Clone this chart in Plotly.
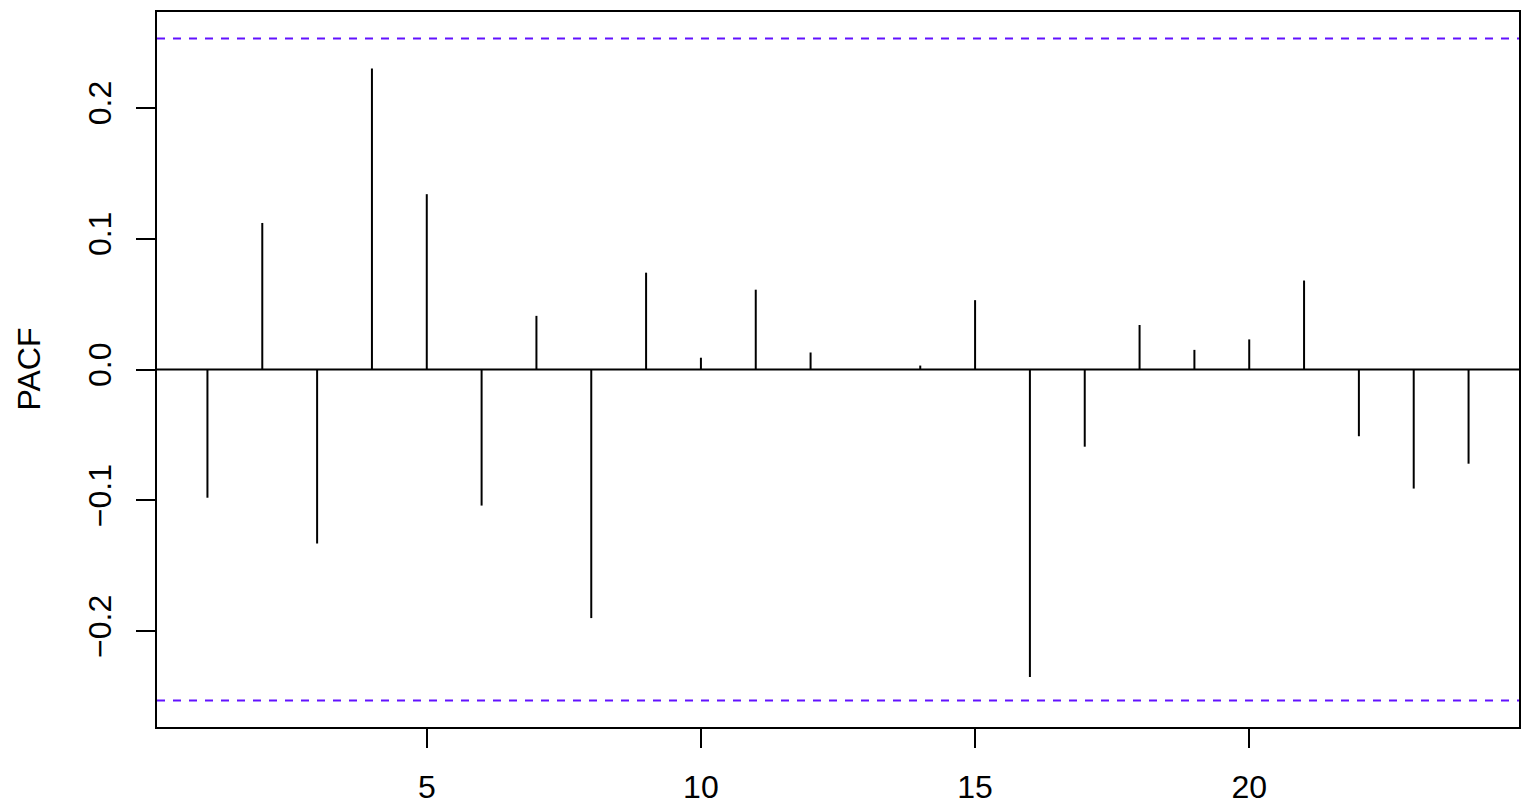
import plotly.graph_objects as go

lags = list(range(1, 25))
pacf = [-0.098, 0.112, -0.133, 0.230, 0.134, -0.104, 0.041, -0.190,
        0.074, 0.009, 0.061, 0.013, 0.000, 0.003, 0.053, -0.235,
        -0.059, 0.034, 0.015, 0.023, 0.068, -0.051, -0.091, -0.072]
ci = 0.253
x_ticks = [5, 10, 15, 20]
y_ticks = [-0.2, -0.1, 0.0, 0.1, 0.2]
y_labels = ["\u22120.2", "\u22120.1", "0.0", "0.1", "0.2"]

xs, ys = [], []
for l, v in zip(lags, pacf):
    xs += [l, l, None]
    ys += [0, v, None]

fig = go.Figure()
fig.add_trace(go.Scatter(x=xs, y=ys, mode="lines",
                         line=dict(color="black", width=2),
                         hoverinfo="skip", showlegend=False))

fig.add_shape(type="line", xref="paper", yref="y", x0=0, x1=1, y0=0, y1=0,
              line=dict(color="black", width=2))
for c in (ci, -ci):
    fig.add_shape(type="line", xref="paper", yref="y", x0=0, x1=1, y0=c, y1=c,
                  line=dict(color="#6212ff", width=2, dash="8px,8px"))

xr = [1 - 0.04 * 23, 24 + 0.04 * 23]
ylo, yhi = -ci, ci
ypad = 0.04 * (yhi - ylo)

font = dict(family="Liberation Sans, Arial, sans-serif", size=32, color="black")

fig.add_annotation(text="PACF", xref="paper", yref="paper", x=0, y=0.5,
                   xanchor="center", yanchor="middle", xshift=-129,
                   textangle=-90, showarrow=False, font=font)

# page has an 8px body margin; compensate so the plot box sits where it should
fig.update_layout(
    width=1526, height=798,
    margin=dict(l=149, r=15, t=4, b=79, autoexpand=False),
    paper_bgcolor="white", plot_bgcolor="white",
    font=font,
    xaxis=dict(range=xr, tickvals=x_ticks, ticktext=[str(t) for t in x_ticks],
               showgrid=False, zeroline=False, showline=True, mirror=True,
               linecolor="black", linewidth=2, ticks="outside", ticklen=19,
               tickwidth=2, tickcolor="black", tickfont=font,
               ticklabelstandoff=12, automargin=False),
    yaxis=dict(range=[ylo - ypad, yhi + ypad], tickvals=y_ticks, ticktext=y_labels,
               tickangle=-90,
               showgrid=False, zeroline=False, showline=True, mirror=True,
               linecolor="black", linewidth=2, ticks="outside", ticklen=19,
               tickwidth=2, tickcolor="black", tickfont=font,
               ticklabelstandoff=12, automargin=False),
)

fig.write_html("out.html")
